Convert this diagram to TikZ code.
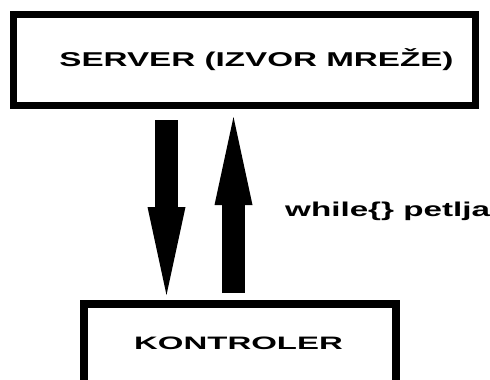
\documentclass[tikz,border=0pt]{standalone}
\usepackage{fontspec}
\setmainfont{Liberation Sans}
\usetikzlibrary{arrows.meta,positioning}

\tikzset{
  box/.style={draw, line width=7pt, rectangle, inner sep=0pt},
  lbl/.style={font=\bfseries\fontsize{20}{22}\selectfont, inner sep=0pt},
  bigarrow/.style={line width=23pt, -{Triangle[width=38pt,length=88pt,line width=0pt]}}
}

\begin{document}
\begin{tikzpicture}[x=1pt,y=-1pt]
  \useasboundingbox (0,0) rectangle (490,380);
  \clip (0,0) rectangle (490,380);

  % boxes
  \node[box, minimum width=462pt, minimum height=91pt] (server) at (244.5,60) {};
  \node[box, line width=8pt, minimum width=312pt, minimum height=120pt] (kontroler) at (240,364) {};

  % texts
  \node[lbl] (serverlbl) at (256.5,60) {\scalebox{1.66}[1]{SERVER (IZVOR MREŽE)}};
  \node[lbl, font=\bfseries\fontsize{18}{20}\selectfont] (kontrolerlbl) at (238.5,343.5) {\scalebox{1.83}[1]{KONTROLER}};

  % arrows
  \coordinate (dn) at (166.5,0);
  \coordinate (up) at (233.5,0);
  \draw[bigarrow, shorten <=11pt, shorten >=5pt] (server.south -| dn) -- (kontroler.north -| dn);
  \draw[bigarrow, shorten <=7pt, shorten >=8pt] (kontroler.north -| up) -- (server.south -| up);

  \node[lbl, anchor=base west] (petlja) at (285,216) {\scalebox{1.66}[1]{while\{\} petlja}};
\end{tikzpicture}
\end{document}
